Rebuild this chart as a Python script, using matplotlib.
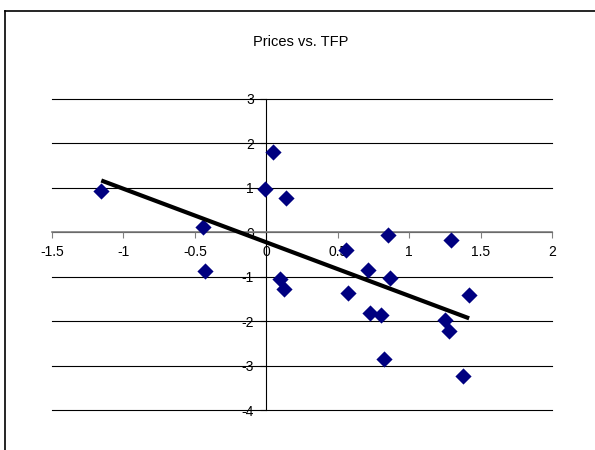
import numpy as np
import matplotlib
matplotlib.use("Agg")
import matplotlib.pyplot as plt
from matplotlib.lines import Line2D

# TFP growth (x) against price changes (y)
tfp = [-1.155, -0.443, -0.432, 0.047, -0.012, 0.14, 0.093, 0.126, 0.558, 0.849, 1.295,
       0.711, 0.863, 0.574, 1.42, 0.723, 0.805, 1.248, 1.28, 0.821, 1.374]
prices = [0.94, 0.11, -0.88, 1.80, 0.98, 0.765, -1.05, -1.27, -0.39, -0.06, -0.17,
          -0.84, -1.03, -1.37, -1.42, -1.81, -1.87, -1.97, -2.23, -2.85, -3.24]

x_ticks = [-1.5, -1, -0.5, 0, 0.5, 1, 1.5, 2]
x_labels = ["-1.5", "-1", "-0.5", "0", "0.5", "1", "1.5", "2"]
y_ticks = [-4, -3, -2, -1, 0, 1, 2, 3]

plt.rcParams["font.family"] = ["Liberation Sans", "DejaVu Sans"]

fig = plt.figure(figsize=(5.95, 4.5), dpi=100)
ax = fig.add_axes([52 / 595, 1 - 410 / 450, 500 / 595, 311 / 450])

# horizontal gridlines
for yv in y_ticks:
    ax.axhline(yv, color="black", lw=0.8, zorder=1, clip_on=False)

x = np.array(tfp)
y = np.array(prices)
ax.scatter(x, y, marker="D", s=68, color="#000080", linewidths=0, zorder=3)

# linear trend over the data range
slope, intercept = np.polyfit(x, y, 1)
xs = np.array([x.min(), x.max()])
ax.plot(xs, slope * xs + intercept, color="black", lw=3, solid_capstyle="butt", zorder=4)

ax.set_xlim(-1.5, 2)
ax.set_ylim(-4, 3)

ax.spines["left"].set_position(("data", 0))
ax.spines["bottom"].set_position(("data", 0))
ax.spines["top"].set_visible(False)
ax.spines["right"].set_visible(False)
ax.spines["left"].set_color("black")
ax.spines["left"].set_linewidth(0.8)
ax.spines["bottom"].set_color("#808080")
ax.spines["bottom"].set_linewidth(1.2)

ax.set_xticks(x_ticks)
ax.set_xticklabels(x_labels)
ax.set_yticks(y_ticks)
ax.set_yticklabels([str(v) for v in y_ticks])
ax.tick_params(axis="x", direction="out", length=4, width=0.8, color="#808080", pad=5, labelsize=10)
ax.tick_params(axis="y", direction="out", length=4, width=0.8, color="black", pad=5, labelsize=10)
ax.patch.set_visible(False)

fig.text(300.5 / 595, 1 - 42 / 450, "Prices vs. TFP", ha="center", va="center", fontsize=10.5)

# chart area border (left and top edges)
fig.add_artist(Line2D([5 / 595, 5 / 595], [0, 1 - 11 / 450], color="black", lw=1.2))
fig.add_artist(Line2D([5 / 595, 1], [1 - 11 / 450, 1 - 11 / 450], color="black", lw=1.2))

fig.savefig("out.png", dpi=100)
